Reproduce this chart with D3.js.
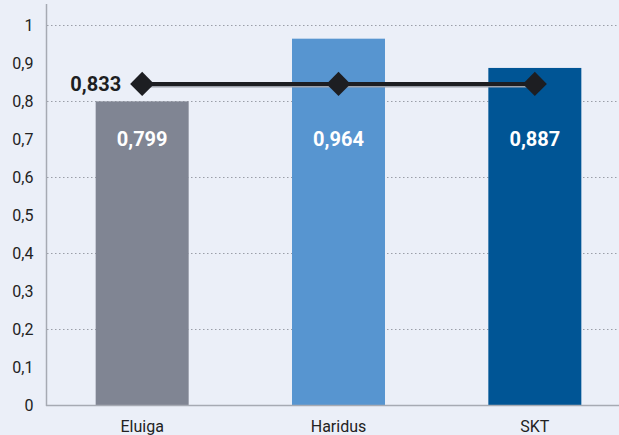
<!DOCTYPE html>
<html>
<head>
<meta charset="utf-8">
<script src="https://cdn.jsdelivr.net/npm/d3@7"></script>
<style>
  body { margin: 0; background: #ebeff8; }
  svg { display: block; font-family: Roboto, "Noto Sans", sans-serif; }
</style>
</head>
<body>
<div id="chart"></div>
<script>
// data
const categories = ["Eluiga", "Haridus", "SKT"];
const barValues = [0.799, 0.964, 0.887];
const barColors = ["#808593", "#5795d0", "#005595"];
const avgLabel = 0.833;
const avgLine = [0.845, 0.845, 0.845]; // where the line sits in the picture
const yTicks = [0, 0.1, 0.2, 0.3, 0.4, 0.5, 0.6, 0.7, 0.8, 0.9, 1];
const gridTicks = [0.2, 0.4, 0.6, 0.8, 1];

const width = 619;
const height = 435;
const fmt = d => String(d).replace(".", ",");

const svg = d3.select("#chart")
              .append("svg")
              .attr("width", width)
              .attr("height", height);

let y = d3.scaleLinear()
          .domain([0, 1])
          .range([405, 25]);

let x = d3.scaleBand()
          .domain(categories)
          .range([44, 633]);
const barW = 93;
const cx = d => x(d) + x.bandwidth() / 2;

// grid
svg.append("g")
   .selectAll("line")
   .data(gridTicks)
   .enter()
   .append("line")
   .attr("x1", 47)
   .attr("x2", width)
   .attr("y1", d => y(d) + 0.5)
   .attr("y2", d => y(d) + 0.5)
   .attr("stroke", "#9a9ea8")
   .attr("stroke-width", 1)
   .attr("stroke-dasharray", "1.5,2.5");

// bars
svg.append("g")
   .selectAll("rect")
   .data(barValues)
   .enter()
   .append("rect")
   .attr("x", (d, i) => cx(categories[i]) - barW / 2)
   .attr("y", d => y(d))
   .attr("width", barW)
   .attr("height", d => y(0) - y(d))
   .attr("fill", (d, i) => barColors[i]);

// bar labels
svg.append("g")
   .selectAll("text")
   .data(barValues)
   .enter()
   .append("text")
   .attr("x", (d, i) => cx(categories[i]))
   .attr("y", y(0.7) + 7)
   .attr("text-anchor", "middle")
   .attr("fill", "#fff")
   .attr("font-weight", "bold")
   .attr("font-size", "20px")
   .text(d => fmt(d));

// axes
const yAxis = svg.append("g")
   .attr("transform", "translate(46.5,0)")
   .call(d3.axisLeft(y).tickValues(yTicks).tickSize(0).tickPadding(13).tickFormat(fmt));
yAxis.select(".domain").remove();
yAxis.selectAll("text")
     .attr("font-size", "16px")
     .attr("font-family", "Roboto, sans-serif")
     .attr("fill", "#222");

svg.append("line")
   .attr("x1", 46.5).attr("x2", 46.5)
   .attr("y1", 4).attr("y2", y(0) + 1)
   .attr("stroke", "#a6aab3").attr("stroke-width", 1.5);
svg.append("line")
   .attr("x1", 46).attr("x2", width)
   .attr("y1", y(0) + 0.5).attr("y2", y(0) + 0.5)
   .attr("stroke", "#a6aab3").attr("stroke-width", 1.5);

svg.append("g")
   .selectAll("text")
   .data(categories)
   .enter()
   .append("text")
   .attr("x", d => cx(d))
   .attr("y", 432)
   .attr("text-anchor", "middle")
   .attr("font-size", "16px")
   .attr("fill", "#222")
   .text(d => d);

// average line
const line = d3.line()
               .x((d, i) => cx(categories[i]))
               .y(d => y(d));

svg.append("path")
   .datum(avgLine)
   .attr("d", line)
   .attr("transform", "translate(0,1.5)")
   .attr("fill", "none")
   .attr("stroke", "#9ea2ab")
   .attr("stroke-width", 4);
svg.append("path")
   .datum(avgLine)
   .attr("d", line)
   .attr("fill", "none")
   .attr("stroke", "#1d1e22")
   .attr("stroke-width", 4);

svg.append("g")
   .selectAll("path")
   .data(avgLine)
   .enter()
   .append("path")
   .attr("d", d3.symbol().type(d3.symbolSquare).size(290))
   .attr("transform", (d, i) => "translate(" + cx(categories[i]) + "," + y(d) + ") rotate(45)")
   .attr("fill", "#1d1e22");

svg.append("text")
   .attr("x", cx(categories[0]) - 21)
   .attr("y", y(avgLine[0]) + 7)
   .attr("text-anchor", "end")
   .attr("font-weight", "bold")
   .attr("font-size", "20px")
   .attr("fill", "#1d1e22")
   .text(fmt(avgLabel));
</script>
</body>
</html>
